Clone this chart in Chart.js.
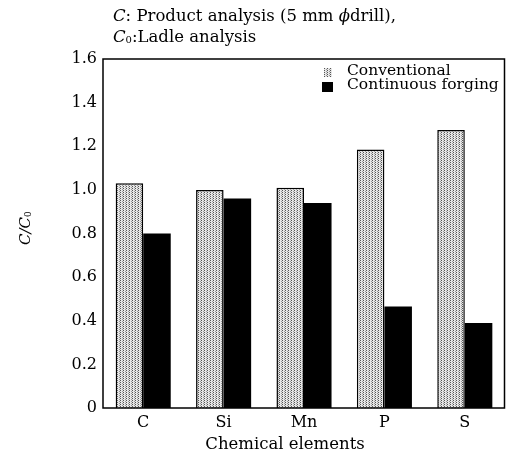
<!DOCTYPE html>
<html>
<head>
<meta charset="utf-8">
<script src="https://cdn.jsdelivr.net/npm/chart.js@4.4.1/dist/chart.umd.min.js"></script>
<style>
  html, body { margin: 0; padding: 0; background: #fff; }
  #wrap { width: 506px; height: 453px; }
</style>
</head>
<body>
<div id="wrap"><canvas id="elementChart" width="506" height="453"></canvas></div>
<script>
const categories = ['C', 'Si', 'Mn', 'P', 'S'];
const conventional = [1.03, 1.00, 1.01, 1.185, 1.275];
const continuousForging = [0.80, 0.96, 0.94, 0.465, 0.39];
const yTickLabels = ['0', '0.2', '0.4', '0.6', '0.8', '1.0', '1.2', '1.4', '1.6'];

const FONT = '"DejaVu Serif", "Liberation Serif", serif';

// dotted grey fill like the printed screen tone
function makePattern() {
  const c = document.createElement('canvas');
  c.width = 3; c.height = 2;
  const g = c.getContext('2d');
  g.fillStyle = '#e6e6e6';
  g.fillRect(0, 0, 3, 2);
  g.fillStyle = '#555';
  g.fillRect(0, 0, 1, 1);
  g.fillStyle = '#999';
  g.fillRect(2, 1, 1, 1);
  return g.createPattern(c, 'repeat');
}
const tone = makePattern();

// mixed italic text helper
function drawRuns(ctx, x, y, runs, size) {
  runs.forEach(r => {
    ctx.font = (r.italic ? 'italic ' : '') + (r.size || size) + 'px ' + FONT;
    ctx.fillText(r.text, x, y + (r.dy || 0));
    x += ctx.measureText(r.text).width;
  });
}

const decorations = {
  id: 'decorations',
  afterDatasetsDraw(chart) {
    const ctx = chart.ctx;
    const a = chart.chartArea;
    ctx.save();
    // frame
    ctx.strokeStyle = '#000';
    ctx.lineWidth = 1.5;
    ctx.strokeRect(a.left, a.top, a.right - a.left - 0.5, a.bottom - a.top);

    ctx.fillStyle = '#000';
    ctx.textBaseline = 'alphabetic';
    ctx.textAlign = 'left';
    // header notes
    drawRuns(ctx, 113, 21, [
      { text: 'C', italic: true },
      { text: ': Product analysis (5 mm ' },
      { text: '\u03d5', italic: true },
      { text: 'drill),' }
    ], 16.5);
    drawRuns(ctx, 113, 42, [
      { text: 'C', italic: true },
      { text: '0', size: 10, dy: 1 },
      { text: ':Ladle analysis' }
    ], 16.5);

    // legend
    const ds = chart.data.datasets;
    ctx.fillStyle = ds[0].backgroundColor;
    ctx.fillRect(324, 68, 8, 9);
    ctx.fillStyle = '#000';
    ctx.fillRect(322, 82, 11, 10);
    ctx.font = '15.5px ' + FONT;
    ctx.fillText(ds[0].label, 347, 75);
    ctx.fillText(ds[1].label, 347, 89);

    // y title
    ctx.save();
    ctx.translate(30, 228);
    ctx.rotate(-Math.PI / 2);
    ctx.font = 'italic 15px ' + FONT;
    const w1 = ctx.measureText('C/C').width;
    drawRuns(ctx, -(w1 + 6) / 2, 0, [
      { text: 'C/C', italic: true },
      { text: '0', size: 9, dy: 1 }
    ], 15);
    ctx.restore();

    // x title
    ctx.textAlign = 'center';
    ctx.font = '16.5px ' + FONT;
    ctx.fillText('Chemical elements', 285, 449);
    ctx.restore();
  }
};

new Chart(document.getElementById('elementChart'), {
  type: 'bar',
  data: {
    labels: categories,
    datasets: [
      {
        label: 'Conventional',
        data: conventional,
        backgroundColor: tone,
        borderColor: '#000',
        borderWidth: 1.5,
        borderSkipped: 'bottom'
      },
      {
        label: 'Continuous forging',
        data: continuousForging,
        backgroundColor: '#000',
        borderColor: '#000',
        borderWidth: 0
      }
    ]
  },
  options: {
    responsive: false,
    animation: false,
    layout: { padding: { top: 59, right: 1, left: 24, bottom: 0 } },
    plugins: {
      legend: { display: false },
      tooltip: { enabled: false }
    },
    datasets: {
      bar: { categoryPercentage: 0.685, barPercentage: 1.0 }
    },
    scales: {
      x: {
        grid: { display: false, drawTicks: false },
        border: { display: false },
        ticks: {
          color: '#000',
          padding: 5,
          font: { family: FONT, size: 16 }
        },
        afterFit(scale) { scale.height = 45; }
      },
      y: {
        min: 0,
        max: 1.6,
        grid: { display: false, drawTicks: false },
        border: { display: false },
        ticks: {
          stepSize: 0.2,
          color: '#000',
          padding: 6,
          font: { family: FONT, size: 16 },
          callback: (v, i) => yTickLabels[i]
        },
        afterFit(scale) { scale.width = 79; }
      }
    }
  },
  plugins: [decorations]
});
</script>
</body>
</html>
